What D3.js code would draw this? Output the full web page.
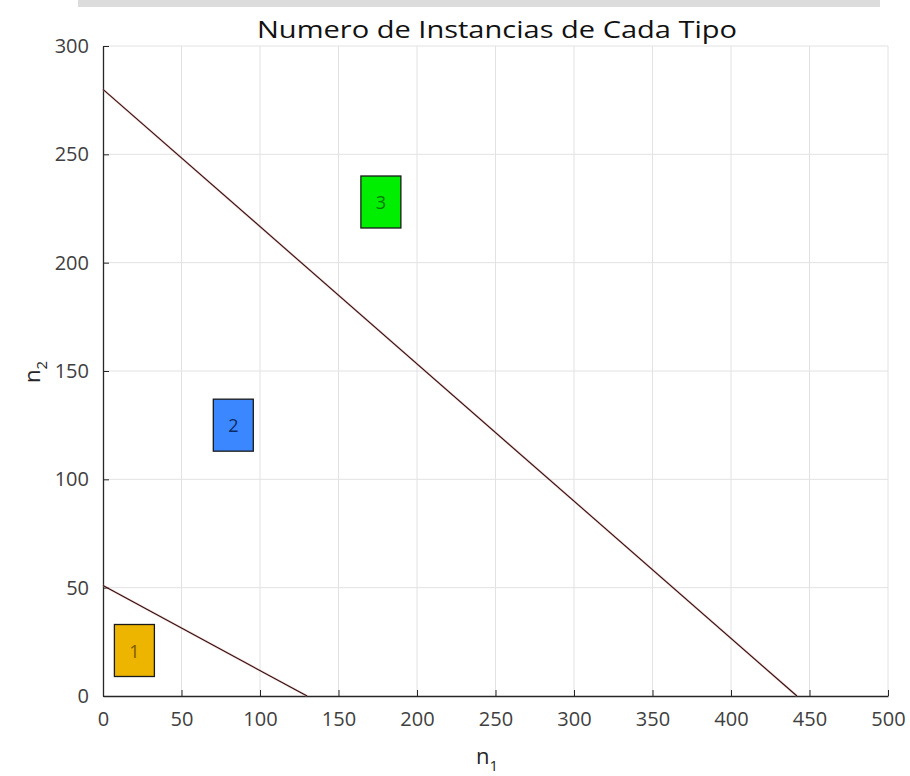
<!DOCTYPE html>
<html><head><meta charset="utf-8">
<script src="https://cdn.jsdelivr.net/npm/d3@7"></script>
<style>body{margin:0;background:#fff}svg{display:block}</style>
</head><body>
<svg id="c" width="910" height="776"></svg>
<script>
const title = "Numero de Instancias de Cada Tipo";
const xTicks = [0,50,100,150,200,250,300,350,400,450,500];
const yTicks = [0,50,100,150,200,250,300];
const line1 = [[0,51],[130,0]];
const line2 = [[0,280],[442,0]];
const boxLabels = ["1","2","3"];
const boxX = [20,83,177];
const boxY = [21,125,228];
const boxColors = ["#edb400","#3b87ff","#00ee00"];
const boxText = ["#7a5a00","#0d2a66","#007a00"];

const svg = d3.select("#c");
const m = {l:103, r:888, t:46, b:696};
const x = d3.scaleLinear().domain([0,500]).range([m.l,m.r]);
const y = d3.scaleLinear().domain([0,300]).range([m.b,m.t]);
const font = "'Open Sans','Noto Sans',sans-serif";

svg.append("rect").attr("x",78).attr("y",0).attr("width",802).attr("height",7).attr("fill","#dcdcdc");

// grid
svg.append("g").selectAll("line").data(xTicks.slice(1)).join("line")
  .attr("x1",d=>x(d)).attr("x2",d=>x(d)).attr("y1",m.t).attr("y2",m.b)
  .attr("stroke","#e2e2e2").attr("stroke-width",1);
svg.append("g").selectAll("line").data(yTicks.slice(1)).join("line")
  .attr("x1",m.l).attr("x2",m.r).attr("y1",d=>y(d)).attr("y2",d=>y(d))
  .attr("stroke","#e2e2e2").attr("stroke-width",1);

// axes
const xa = svg.append("g").attr("transform",`translate(0,${m.b})`)
  .call(d3.axisBottom(x).tickValues(xTicks).tickSizeInner(-6).tickSizeOuter(0).tickPadding(16));
const ya = svg.append("g").attr("transform",`translate(${m.l},0)`)
  .call(d3.axisLeft(y).tickValues(yTicks).tickSizeInner(-6).tickSizeOuter(0).tickPadding(14));
[xa,ya].forEach(a=>{
  a.attr("font-size",null).attr("font-family",null);
  a.select(".domain").attr("stroke","#262626").attr("stroke-width",1.3);
  a.selectAll(".tick line").attr("stroke","#262626");
  a.selectAll("text").style("font-family",font).style("font-size","20px").attr("fill","#404040");
});

// lines
const lg = d3.line().x(d=>x(d[0])).y(d=>y(d[1]));
[line1,line2].forEach(l=>{
  svg.append("path").datum(l).attr("d",lg).attr("fill","none")
    .attr("stroke","#f3b0b0").attr("stroke-width",2.4).attr("opacity",0.5);
  svg.append("path").datum(l).attr("d",lg).attr("fill","none")
    .attr("stroke","#2e1010").attr("stroke-width",1.1);
});

// boxes
const bw = 40, bh = 52;
boxLabels.forEach((t,i)=>{
  const cx = x(boxX[i]), cy = y(boxY[i]);
  svg.append("rect").attr("x",cx-bw/2).attr("y",cy-bh/2).attr("width",bw).attr("height",bh)
    .attr("fill",boxColors[i]).attr("stroke","#1a1a1a").attr("stroke-width",1.3);
  svg.append("text").attr("x",cx).attr("y",cy).attr("text-anchor","middle").attr("dominant-baseline","central")
    .style("font-family",font).style("font-size","18px").attr("fill",boxText[i]).text(t);
});

// title
svg.append("text").attr("x",497).attr("y",38).attr("text-anchor","middle")
  .attr("textLength",480).attr("lengthAdjust","spacingAndGlyphs")
  .style("font-family",font).style("font-size","24px").attr("fill","#111").text(title);

// axis labels
const xl = svg.append("text").attr("x",487).attr("y",764).attr("text-anchor","middle")
  .style("font-family",font).style("font-size","22px").attr("fill","#262626");
xl.append("tspan").text("n");
xl.append("tspan").attr("dy",7).style("font-size","15px").text("1");
const yl = svg.append("text").attr("transform","translate(40,372) rotate(-90)").attr("text-anchor","middle")
  .style("font-family",font).style("font-size","22px").attr("fill","#262626");
yl.append("tspan").text("n");
yl.append("tspan").attr("dy",7).style("font-size","15px").text("2");
</script>
</body></html>
